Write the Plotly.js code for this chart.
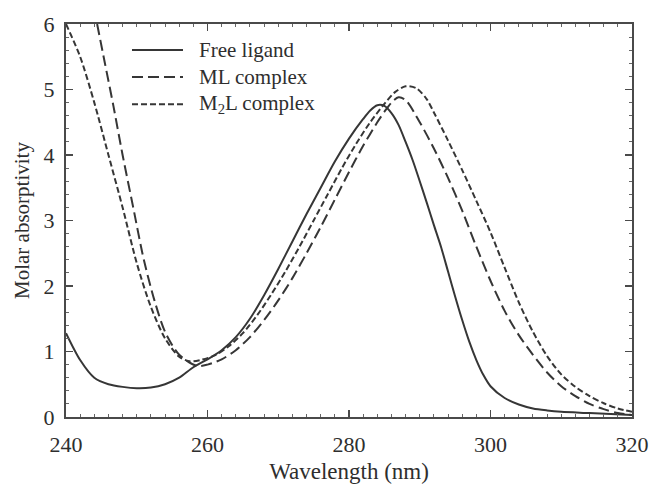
<!DOCTYPE html>
<html>
<head>
<meta charset="utf-8">
<script src="https://cdn.plot.ly/plotly-3.0.1.min.js"></script>
<style>html,body{margin:0;padding:0;background:#fff;}#chart{width:652px;height:495px;}</style>
</head>
<body>
<div id="chart"></div>
<script>
// Wavelength (nm) and molar absorptivity readings
const freeX = [240, 242, 244, 246, 248, 250, 252, 254, 256, 258, 260, 262, 264, 266, 268, 270, 272, 274, 276, 278, 280, 282, 283, 284, 285, 286, 287, 288, 289, 290, 291, 292, 293, 294, 295, 296, 297, 298, 299, 300, 302, 304, 306, 308, 310, 314, 320];
const freeY = [1.28, 0.87, 0.6, 0.5, 0.46, 0.44, 0.45, 0.5, 0.6, 0.76, 0.88, 1.02, 1.22, 1.5, 1.86, 2.26, 2.68, 3.1, 3.5, 3.9, 4.25, 4.55, 4.68, 4.76, 4.75, 4.64, 4.46, 4.2, 3.92, 3.6, 3.27, 2.93, 2.6, 2.22, 1.84, 1.48, 1.15, 0.87, 0.64, 0.47, 0.29, 0.19, 0.13, 0.1, 0.08, 0.06, 0.03];

const mlX = [244.4, 245.5, 246.7, 248, 249.5, 251, 252.5, 254, 256, 258.5, 260, 262, 264, 266, 268, 270, 272, 274, 276, 278, 280, 282, 284, 285, 286, 287, 288, 290, 292, 294, 296, 298, 300, 302, 304, 306, 308, 310, 312, 314, 316, 318, 320];
const mlY = [6.0, 5.4, 4.75, 4.0, 3.2, 2.4, 1.78, 1.3, 0.95, 0.78, 0.8, 0.88, 1.02, 1.22, 1.48, 1.78, 2.12, 2.5, 2.9, 3.32, 3.74, 4.14, 4.5, 4.66, 4.8, 4.88, 4.84, 4.5, 4.1, 3.65, 3.15, 2.6, 2.08, 1.62, 1.25, 0.95, 0.68, 0.47, 0.32, 0.2, 0.12, 0.06, 0.03];

const m2lX = [240, 242, 244, 246, 248, 250, 252, 254, 256, 257.5, 259, 261, 263, 265, 267, 269, 271, 273, 275, 277, 279, 281, 283, 285, 286.5, 288, 289.5, 291, 292, 294, 296, 298, 300, 302, 304, 306, 308, 310, 312, 314, 316, 318, 320];
const m2lY = [6.0, 5.5, 4.8, 4.0, 3.2, 2.35, 1.68, 1.2, 0.92, 0.85, 0.87, 0.94, 1.08, 1.28, 1.55, 1.87, 2.22, 2.6, 3.0, 3.4, 3.8, 4.17, 4.5, 4.78, 4.96, 5.05, 5.02, 4.85, 4.65, 4.22, 3.77, 3.3, 2.82, 2.28, 1.75, 1.3, 0.93, 0.65, 0.46, 0.32, 0.21, 0.13, 0.08];

const seriesNames = ["Free ligand", "ML complex", "M<sub>2</sub>L complex"];
const seriesDash = ["solid", "11px,5px", "6px,3px"];
const xTicks = [240, 260, 280, 300, 320];
const yTicks = [0, 1, 2, 3, 4, 5, 6];

const ink = "#363636";
const lineBase = {color: ink, width: 2, shape: "spline", smoothing: 0.8};

const traces = [
  {x: freeX, y: freeY, name: seriesNames[0], mode: "lines", line: Object.assign({}, lineBase, {dash: seriesDash[0]})},
  {x: mlX, y: mlY, name: seriesNames[1], mode: "lines", line: Object.assign({}, lineBase, {dash: seriesDash[1]})},
  {x: m2lX, y: m2lY, name: seriesNames[2], mode: "lines", line: Object.assign({}, lineBase, {dash: seriesDash[2]})}
];

const font = {family: "Liberation Serif, Times New Roman, serif", color: "#2e2e2e"};

// Compact hand-placed legend (rows are tighter than Plotly's own legend allows)
const legendRowsY = [0.934, 0.865, 0.796];
const legendShapes = seriesNames.map((n, i) => ({
  type: "line", xref: "paper", yref: "paper",
  x0: 0.1166, x1: 0.2067, y0: legendRowsY[i], y1: legendRowsY[i],
  line: {color: ink, width: 2, dash: seriesDash[i]}
}));
const legendTexts = seriesNames.map((n, i) => ({
  text: n, xref: "paper", yref: "paper", x: 0.232, y: legendRowsY[i],
  xanchor: "left", yanchor: "middle", showarrow: false,
  font: Object.assign({}, font, {size: 21})
}));

const axisCommon = {
  showline: true, linewidth: 2, linecolor: "#4a4a4a", mirror: "allticks",
  ticks: "inside", ticklen: 7, tickwidth: 1.5, tickcolor: "#4a4a4a",
  showgrid: false, zeroline: false, tickfont: Object.assign({}, font, {size: 22})
};

const layout = {
  width: 652, height: 495,
  margin: {l: 66, r: 20, t: 24, b: 78},
  paper_bgcolor: "#fff", plot_bgcolor: "#fff",
  font: font,
  showlegend: false,
  shapes: legendShapes,
  annotations: legendTexts,
  xaxis: Object.assign({}, axisCommon, {
    range: [240, 320], tickvals: xTicks, ticktext: xTicks.map(String),
    ticklabelstandoff: 7,
    minor: {dtick: 2, ticks: "inside", ticklen: 3, tickcolor: "#666", tickwidth: 1},
    title: {text: "Wavelength (nm)", font: Object.assign({}, font, {size: 23}), standoff: 6}
  }),
  yaxis: Object.assign({}, axisCommon, {
    range: [0, 6], tickvals: yTicks, ticktext: yTicks.map(String),
    ticklabelstandoff: 5,
    minor: {dtick: 0.2, ticks: "inside", ticklen: 3, tickcolor: "#666", tickwidth: 1},
    title: {text: "Molar absorptivity", font: Object.assign({}, font, {size: 21}), standoff: 8}
  })
};

Plotly.newPlot("chart", traces, layout, {displayModeBar: false, staticPlot: true});
</script>
</body>
</html>
